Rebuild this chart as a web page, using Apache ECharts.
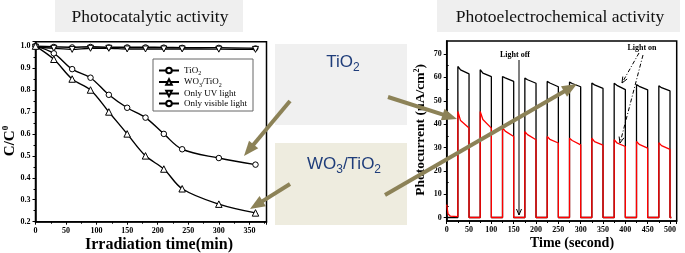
<!DOCTYPE html>
<html>
<head>
<meta charset="utf-8">
<style>
html, body { margin: 0; padding: 0; background: #fff; }
#chart { width: 685px; height: 253px; }
</style>
<script src="https://cdn.jsdelivr.net/npm/echarts@6/dist/echarts.min.js"></script>
</head>
<body>
<div id="chart"></div>
<script>
// left panel: photocatalytic degradation
var irrTime = [0, 30, 60, 90, 120, 150, 180, 210, 240, 300, 360];
var tio2 = [1.0, 0.967, 0.895, 0.856, 0.778, 0.719, 0.674, 0.60, 0.53, 0.49, 0.46];
var wo3Tio2 = [1.0, 0.94, 0.85, 0.80, 0.70, 0.60, 0.50, 0.44, 0.35, 0.28, 0.24];
var onlyUv = [0.995, 0.99, 0.985, 0.99, 0.99, 0.987, 0.987, 0.987, 0.987, 0.986, 0.985];
var onlyVis = [1.0, 0.997, 0.995, 0.997, 0.995, 0.995, 0.995, 0.994, 0.993, 0.993, 0.99];
var seriesNames = ['TiO2', 'WO3/TiO2', 'Only UV light', 'Only visible light'];

// right panel: light on/off cycles
var onT = [25, 75, 125, 175, 225, 275, 325, 375, 425, 475];
var kneeT = [31, 81, 131, 181, 231, 281, 331, 381, 431, 481];
var offT = [50, 100, 150, 200, 250, 300, 350, 400, 450, 500];
var blackPeak = [64.7, 63.3, 60.4, 59.7, 58.3, 58.0, 57.6, 57.5, 56.9, 56.4];
var blackKnee = [63.2, 61.8, 59.8, 59.0, 57.6, 57.4, 56.8, 56.6, 56.2, 55.6];
var blackEnd = [61.5, 60.3, 58.3, 57.5, 56.0, 56.0, 55.3, 54.8, 54.7, 54.2];
var redPeak = [45.4, 45.4, 38.5, 36.8, 34.7, 34.0, 34.0, 33.3, 32.6, 32.0];
var redKnee = [41.5, 42.0, 37.0, 35.5, 33.5, 33.0, 32.5, 32.0, 31.3, 30.8];
var redEnd = [38.3, 38.3, 34.7, 33.3, 31.9, 31.1, 31.0, 30.4, 29.7, 29.2];
var redLead = [[0, 5.5], [3, 1.5], [8, 0.6], [25, 0.4]];
var blackLead = [[0, 0], [25, 0]];
var tailT = 503;
var yTicksRight = [0, 10, 20, 30, 40, 50, 60, 70];
var yMinorRight = [5, 15, 25, 35, 45, 55, 65];

(function (window) {
    var SERIF = '"Liberation Serif", "Times New Roman", serif';
    var SANS = '"Liberation Sans", Arial, sans-serif';
    var OLIVE = '#8c8257';

    function pairs(xs, ys) {
        return xs.map(function (x, i) { return [x, ys[i]]; });
    }

    function pulses(lead, peak, knee, end) {
        var pts = lead.slice();
        for (var k = 0; k < onT.length; k++) {
            pts.push([onT[k], 0], [onT[k], peak[k]], [kneeT[k], knee[k]], [offT[k], end[k]], [offT[k], 0]);
        }
        pts.push([tailT, 0]);
        return pts;
    }

    // solid olive arrow
    function arrow(x1, y1, x2, y2) {
        var a = Math.atan2(y2 - y1, x2 - x1);
        var hl = 15, hw = 12;
        var bx = x2 - hl * Math.cos(a), by = y2 - hl * Math.sin(a);
        var px = -Math.sin(a) * hw / 2, py = Math.cos(a) * hw / 2;
        return [
            { type: 'line', z: 100, shape: { x1: x1, y1: y1, x2: bx + Math.cos(a) * 2, y2: by + Math.sin(a) * 2 },
              style: { stroke: OLIVE, lineWidth: 4 } },
            { type: 'polygon', z: 100, shape: { points: [[x2, y2], [bx + px, by + py], [bx - px, by - py]] },
              style: { fill: OLIVE } }
        ];
    }

    // thin black arrow with open head
    function thinArrow(x1, y1, x2, y2, dash) {
        var a = Math.atan2(y2 - y1, x2 - x1);
        var hl = 6, hw = 5;
        var bx = x2 - hl * Math.cos(a), by = y2 - hl * Math.sin(a);
        var px = -Math.sin(a) * hw / 2, py = Math.cos(a) * hw / 2;
        return [
            { type: 'line', z: 90, shape: { x1: x1, y1: y1, x2: x2, y2: y2 },
              style: { stroke: '#000', lineWidth: 1, lineDash: dash || null } },
            { type: 'polyline', z: 90, shape: { points: [[bx + px, by + py], [x2, y2], [bx - px, by - py]] },
              style: { stroke: '#000', lineWidth: 1, fill: null } }
        ];
    }

    function axisCommon() {
        return {
            axisLine: { show: true, onZero: false, lineStyle: { color: '#000', width: 1.5 } },
            axisTick: { show: true, length: 3, lineStyle: { color: '#000', width: 1 } },
            minorTick: { show: true, splitNumber: 2, length: 2, lineStyle: { color: '#000', width: 1 } },
            splitLine: { show: false },
            axisLabel: { fontFamily: SERIF, fontWeight: 'bold', fontSize: 8, color: '#000', margin: 5 }
        };
    }

    function extend(base, more) {
        Object.keys(more).forEach(function (k) {
            if (base[k] && typeof base[k] === 'object' && !Array.isArray(base[k])) {
                Object.assign(base[k], more[k]);
            } else {
                base[k] = more[k];
            }
        });
        return base;
    }

    function curve(name, symbol, size, smooth, data, rotate) {
        return {
            name: name, type: 'line', xAxisIndex: 0, yAxisIndex: 0,
            symbol: symbol, symbolSize: size, symbolRotate: rotate || 0,
            smooth: smooth, data: data,
            lineStyle: { color: '#000', width: 1.4 },
            itemStyle: { color: '#fff', borderColor: '#000', borderWidth: 1 }
        };
    }

    var richName = {
        n: { fontFamily: SERIF, fontSize: 9, lineHeight: 12, color: '#000' },
        s: { fontFamily: SERIF, fontSize: 6, lineHeight: 6, verticalAlign: 'bottom', color: '#000' }
    };
    var legendLabels = {
        'TiO2': '{n|TiO}{s|2}',
        'WO3/TiO2': '{n|WO}{s|3}{n|/TiO}{s|2}',
        'Only UV light': '{n|Only UV light}',
        'Only visible light': '{n|Only visible light}'
    };

    var graphics = [
        // panel titles
        { type: 'rect', z: 0, shape: { x: 55, y: 0, width: 188, height: 32 }, style: { fill: '#efefef' } },
        { type: 'text', z: 1, x: 150, y: 17, style: { text: 'Photocatalytic activity', font: '17.5px ' + SERIF,
            fill: '#111', align: 'center', verticalAlign: 'middle' } },
        { type: 'rect', z: 0, shape: { x: 437, y: 0, width: 243, height: 32 }, style: { fill: '#efefef' } },
        { type: 'text', z: 1, x: 560, y: 17, style: { text: 'Photoelectrochemical activity', font: '17.5px ' + SERIF,
            fill: '#111', align: 'center', verticalAlign: 'middle' } },
        // middle labels
        { type: 'rect', z: 0, shape: { x: 275, y: 44, width: 132, height: 81 }, style: { fill: '#f0f0f0' } },
        { type: 'text', z: 1, x: 343, y: 62, style: { text: '{m|TiO}{s|2}', align: 'center', verticalAlign: 'middle',
            rich: { m: { font: '17px ' + SANS, fill: '#1f3d7a', lineHeight: 24 },
                    s: { font: '12px ' + SANS, fill: '#1f3d7a', lineHeight: 12, verticalAlign: 'bottom' } } } },
        { type: 'rect', z: 0, shape: { x: 275, y: 143, width: 132, height: 82 }, style: { fill: '#eeecdf' } },
        { type: 'text', z: 1, x: 344, y: 164, style: { text: '{m|WO}{s|3}{m|/TiO}{s|2}', align: 'center', verticalAlign: 'middle',
            rich: { m: { font: '17px ' + SANS, fill: '#1f3d7a', lineHeight: 24 },
                    s: { font: '12px ' + SANS, fill: '#1f3d7a', lineHeight: 12, verticalAlign: 'bottom' } } } },
        // axis titles
        { type: 'text', z: 5, x: 10, y: 141, rotation: Math.PI / 2, style: { text: '{a|C/C}{b|0}', align: 'center', verticalAlign: 'middle',
            rich: { a: { font: 'bold 15px ' + SERIF, fill: '#000', lineHeight: 18 },
                    b: { font: 'bold 9px ' + SERIF, fill: '#000', lineHeight: 9, verticalAlign: 'top' } } } },
        { type: 'text', z: 5, x: 159, y: 245, style: { text: 'Irradiation time(min)', font: 'bold 16px ' + SERIF,
            fill: '#000', align: 'center', verticalAlign: 'middle' } },
        { type: 'text', z: 5, x: 421, y: 130, rotation: Math.PI / 2, style: { text: '{a|Photocurrent (\u03bcA/cm}{b|2}{a|)}',
            align: 'center', verticalAlign: 'middle',
            rich: { a: { font: 'bold 13.5px ' + SERIF, fill: '#000', lineHeight: 17 },
                    b: { font: 'bold 8px ' + SERIF, fill: '#000', lineHeight: 8, verticalAlign: 'top' } } } },
        { type: 'text', z: 5, x: 572, y: 243, style: { text: 'Time (second)', font: 'bold 14px ' + SERIF,
            fill: '#000', align: 'center', verticalAlign: 'middle' } },
        // light on / off notes
        { type: 'text', z: 90, x: 515, y: 55, style: { text: 'Light off', font: 'bold 8px ' + SERIF,
            fill: '#000', align: 'center', verticalAlign: 'middle' } },
        { type: 'text', z: 90, x: 642, y: 48, style: { text: 'Light on', font: 'bold 8px ' + SERIF,
            fill: '#000', align: 'center', verticalAlign: 'middle' } }
    ];
    graphics = graphics
        .concat(thinArrow(519, 60, 519, 215))
        .concat(thinArrow(639, 53, 622, 83, [4, 2, 1, 2]))
        .concat(thinArrow(643, 55, 620, 143, [4, 2, 1, 2]))
        .concat(arrow(290, 101, 244, 156))
        .concat(arrow(290, 184, 250, 209))
        .concat(arrow(388, 97, 457, 119))
        .concat(arrow(385, 195, 577, 84));

    var chart = echarts.init(document.getElementById('chart'));
    chart.setOption({
        animation: false,
        backgroundColor: '#fff',
        grid: [
            { left: 35.5, top: 41.7, width: 231, height: 180, show: true, borderColor: '#000', borderWidth: 1.5 },
            { left: 446.7, top: 41, width: 230, height: 180, show: true, borderColor: '#000', borderWidth: 1.5 }
        ],
        xAxis: [
            extend(axisCommon(), { type: 'value', gridIndex: 0, min: 0, max: 378, interval: 50,
                axisLabel: { showMaxLabel: false } }),
            extend(axisCommon(), { type: 'value', gridIndex: 1, min: 0, max: 515, interval: 50,
                axisLabel: { showMaxLabel: false } })
        ],
        yAxis: [
            extend(axisCommon(), { type: 'value', gridIndex: 0, min: 0.2, max: 1.02, interval: 0.1,
                axisLabel: { showMaxLabel: false, formatter: function (v) { return v.toFixed(1); } } }),
            extend(axisCommon(), { type: 'value', gridIndex: 1, min: -1.5, max: 75.6,
                minorTick: { show: false },
                axisLabel: { customValues: yTicksRight },
                axisTick: { customValues: yTicksRight } }),
            { type: 'value', gridIndex: 1, min: -1.5, max: 75.6,
                axisLine: { show: false }, splitLine: { show: false },
                axisLabel: { show: false, customValues: yMinorRight },
                axisTick: { show: true, length: 2, customValues: yMinorRight, lineStyle: { color: '#000' } } }
        ],
        legend: {
            left: 153, top: 59, orient: 'vertical',
            data: seriesNames,
            itemWidth: 20, itemHeight: 7, itemGap: 1,
            padding: [7, 6, 3, 5],
            borderColor: '#666', borderWidth: 1,
            textStyle: { fontFamily: SERIF, fontSize: 9, color: '#000', rich: richName },
            formatter: function (name) { return legendLabels[name]; }
        },
        graphic: graphics,
        series: [
            curve('Only visible light', 'circle', 5, 0.2, pairs(irrTime, onlyVis)),
            curve('Only UV light', 'triangle', 6, 0.2, pairs(irrTime, onlyUv), 180),
            curve('TiO2', 'circle', 5.5, 0.35, pairs(irrTime, tio2)),
            curve('WO3/TiO2', 'triangle', 6.5, 0.35, pairs(irrTime, wo3Tio2)),
            { name: 'black', type: 'line', xAxisIndex: 1, yAxisIndex: 1, symbol: 'none',
                lineStyle: { color: '#000', width: 1.3 }, data: pulses(blackLead, blackPeak, blackKnee, blackEnd) },
            { name: 'red', type: 'line', xAxisIndex: 1, yAxisIndex: 1, symbol: 'none',
                lineStyle: { color: '#ff0000', width: 1.3 }, data: pulses(redLead, redPeak, redKnee, redEnd) }
        ]
    });
})(window);
</script>
</body>
</html>
